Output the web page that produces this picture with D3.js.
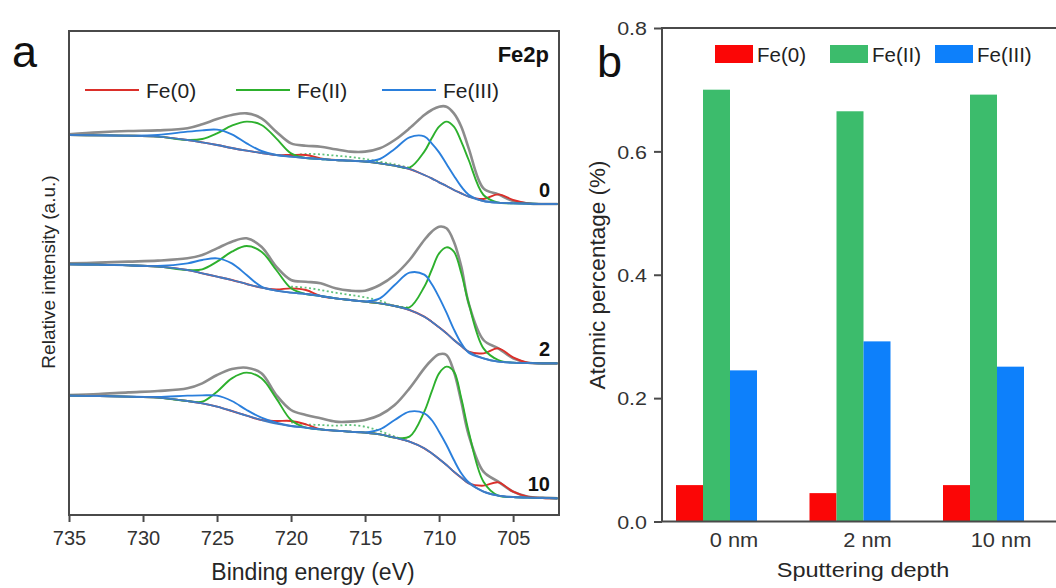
<!DOCTYPE html>
<html>
<head>
<meta charset="utf-8">
<script src="https://cdn.jsdelivr.net/npm/d3@7"></script>
<style>
  body { margin: 0; background: #fff; }
  text { font-family: "Liberation Sans", Arial, sans-serif; }
</style>
</head>
<body>
<svg id="chart" width="1056" height="588"></svg>
<script>
// ---- panel a: Fe2p spectra, binding energy grid (eV) shared by all curves
const energy = [735,733,731,729,727,726,725,724,723,722,721,720,719,718,717,716,715,714,713,712,711,710.5,710,709.5,709,708.5,708,707,706,705,704,703,702];
const energyTicks = [735,730,725,720,715,710,705];
const depthNames = ["0", "2", "10"];
// vertical stacking of the three spectra (same a.u. as the curves)
const stackOffset = [933, 455, 50];

// 0 nm
const raw_0nm = [209,215,219,221,227,239,255,267,272,257,217,182,175,172,164,157,157,167,192,227,267,282,292,292,272,232,167,47,29,9,2,0,0];
const bg_0nm  = [207,206,205,202,192,185,177,168,160,153,147,142,138,135,132,130,127,122,115,105,87,77,65,54,42,32,22,9,4,2,1,0,0];
const fe0_0nm = [207,206,205,202,192,185,177,168,160,153,147,147,147,137,132,130,127,122,115,105,87,77,65,54,42,32,22,15,29,12,2,0,0];
const fe2_0nm = [207,206,205,202,192,195,212,235,247,237,197,152,138,135,132,130,127,122,115,109,157,197,232,247,232,187,132,27,4,2,1,0,0];
const fe3_0nm = [207,206,205,207,217,221,223,209,182,159,147,142,138,135,132,130,128,135,165,200,203,182,155,120,85,52,28,9,4,2,1,0,0];
const sat_0nm = [null,null,null,null,null,null,null,null,null,null,null,145,150,149,145,141,135,127,119,109,null,null,null,null,null,null,null,null,null,null,null,null,null];

// 2 nm
const raw_2nm = [300,302,305,308,315,325,345,365,375,350,290,250,245,240,225,218,218,235,265,310,370,395,410,405,365,290,180,70,45,15,2,0,0];
const bg_2nm  = [297,296,294,290,280,270,260,250,238,227,218,212,208,202,195,190,185,180,172,160,140,125,108,90,70,52,35,15,5,2,1,0,0];
const fe0_2nm = [297,296,294,290,280,270,260,250,238,227,222,225,220,202,195,190,185,180,172,160,140,125,108,90,70,52,35,30,45,18,2,0,0];
const fe2_2nm = [297,296,294,290,280,282,305,335,352,335,280,225,208,202,195,190,185,180,172,168,230,280,330,348,335,270,180,45,10,2,1,0,0];
const fe3_2nm = [297,296,294,292,300,310,315,300,265,230,218,212,208,202,195,190,186,195,235,272,266,238,198,152,102,60,32,15,5,2,1,0,0];
const sat_2nm = [null,null,null,null,null,null,null,null,null,null,null,230,227,220,212,205,198,188,172,168,null,null,null,null,null,null,null,null,null,null,null,null,null];

// 10 nm
const raw_10nm = [310,313,318,322,330,345,370,388,392,375,310,265,250,240,230,230,235,250,280,330,390,415,432,430,380,290,190,80,50,20,5,2,0];
const bg_10nm  = [308,307,305,302,292,285,275,262,248,235,224,217,212,207,203,200,197,192,182,170,150,135,118,100,80,62,45,20,8,4,2,1,0];
const fe0_10nm = [308,307,305,302,292,285,275,262,248,235,232,232,222,207,203,200,197,192,182,170,150,135,118,100,80,62,45,38,48,20,5,1,0];
const fe2_10nm = [308,307,305,302,292,290,320,360,377,360,300,235,212,207,203,200,197,192,182,185,260,320,375,395,380,300,200,50,8,4,2,1,0];
const fe3_10nm = [308,307,305,304,308,309,308,292,265,242,227,217,212,207,203,200,198,207,235,260,255,235,200,160,115,75,48,20,8,4,2,1,0];
const sat_10nm = [null,null,null,null,null,null,null,null,null,null,null,228,222,220,218,220,215,202,185,170,null,null,null,null,null,null,null,null,null,null,null,null,null];

// ---- panel b: atomic percentage vs sputtering depth
const depthLabels = ["0 nm", "2 nm", "10 nm"];
const speciesNames = ["Fe(0)", "Fe(II)", "Fe(III)"];
const fe0Pct = [0.059, 0.046, 0.059];
const fe2Pct = [0.700, 0.665, 0.692];
const fe3Pct = [0.245, 0.292, 0.251];
const pctTicks = [0, 0.2, 0.4, 0.6, 0.8];

const svg = d3.select("#chart");
const axisColor = "#4a4a4a";
const textColor = "#262626";

// text helper, sx stretches glyphs horizontally
function label(g, x, y, str, size, opt) {
    opt = opt || {};
    let sx = opt.sx || 1;
    let rot = opt.rotate ? ` rotate(${opt.rotate})` : "";
    return g.append("text")
        .attr("transform", `translate(${x},${y})${rot} scale(${sx},1)`)
        .attr("text-anchor", opt.anchor || "start")
        .attr("font-size", size)
        .attr("font-weight", opt.bold ? "bold" : "normal")
        .attr("fill", opt.fill || textColor)
        .text(str);
}

// ================= panel a =================
const A = {left: 69, right: 559, top: 31, bottom: 515};
const xA = d3.scaleLinear().domain([735, 701.9]).range([A.left, A.right]);
const yA = d3.scaleLinear().domain([0, 1452]).range([A.bottom, A.top]);

const colA = {raw: "#8c8c8c", fe0: "#db2f2a", fe2: "#2db02d", fe3: "#2a7fdc", bg: "#3f7cc4", sat: "#62c27c"};

let spectra = [
    {raw: raw_0nm, bg: bg_0nm, fe0: fe0_0nm, fe2: fe2_0nm, fe3: fe3_0nm, sat: sat_0nm},
    {raw: raw_2nm, bg: bg_2nm, fe0: fe0_2nm, fe2: fe2_2nm, fe3: fe3_2nm, sat: sat_2nm},
    {raw: raw_10nm, bg: bg_10nm, fe0: fe0_10nm, fe2: fe2_10nm, fe3: fe3_10nm, sat: sat_10nm}
];

let gA = svg.append("g");

spectra.forEach(function (s, i) {
    let off = stackOffset[i];
    let line = d3.line()
        .defined(d => d[1] !== null)
        .x(d => xA(d[0]))
        .y(d => yA(d[1] + off))
        .curve(d3.curveCatmullRom.alpha(0.5));
    let pts = arr => energy.map((e, k) => [e, arr[k]]);

    gA.append("path").attr("d", line(pts(s.raw)))
        .attr("fill", "none").attr("stroke", colA.raw).attr("stroke-width", 2.6);
    gA.append("path").attr("d", line(pts(s.sat)))
        .attr("fill", "none").attr("stroke", colA.sat).attr("stroke-width", 1.8)
        .attr("stroke-dasharray", "2,2.5");
    ["fe0", "fe2", "fe3"].forEach(function (k) {
        gA.append("path").attr("d", line(pts(s[k])))
            .attr("fill", "none").attr("stroke", colA[k]).attr("stroke-width", 1.9);
    });
    gA.append("path").attr("d", line(pts(s.bg)))
        .attr("fill", "none").attr("stroke", colA.bg).attr("stroke-width", 1.8);

    label(gA, A.right - 9, yA(off) - 7, depthNames[i], 20, {anchor: "end", bold: true, fill: "#111"});
});

// frame
gA.append("rect")
    .attr("x", A.left).attr("y", A.top)
    .attr("width", A.right - A.left).attr("height", A.bottom - A.top)
    .attr("fill", "none").attr("stroke", axisColor).attr("stroke-width", 2);

let axA = gA.append("g")
    .attr("transform", `translate(0,${A.bottom})`)
    .call(d3.axisBottom(xA).tickValues(energyTicks).tickSize(7).tickSizeOuter(0).tickPadding(9));
axA.select(".domain").remove();
axA.selectAll("line").attr("stroke", axisColor).attr("stroke-width", 2);
axA.selectAll("text").attr("font-size", 20).attr("fill", "#333")
    .attr("font-family", "Liberation Sans, Arial, sans-serif");

label(gA, 313, 580, "Binding energy (eV)", 23, {anchor: "middle"});
label(gA, 55, 272, "Relative intensity (a.u.)", 19, {anchor: "middle", rotate: -90});
label(gA, 12, 67, "a", 45, {fill: "#111"});
label(gA, A.right - 10, 62, "Fe2p", 22, {anchor: "end", bold: true, fill: "#111"});

// legend a
let legA = [{k: "fe0", x: 85}, {k: "fe2", x: 236}, {k: "fe3", x: 382}];
legA.forEach(function (d, i) {
    gA.append("line")
        .attr("x1", d.x).attr("x2", d.x + 54).attr("y1", 90).attr("y2", 90)
        .attr("stroke", colA[d.k]).attr("stroke-width", 2.2);
    label(gA, d.x + 61, 97.5, speciesNames[i], 21, {fill: "#222"});
});

// ================= panel b =================
const B = {left: 662, right: 1056, top: 28, bottom: 521.5};
const colB = ["#fb0606", "#3cbc6c", "#0d80fb"];
const xB = d3.scalePoint().domain(depthLabels).range([734, 1001]);
const xSub = d3.scaleBand().domain(speciesNames).range([-58, 23]);
const yB = d3.scaleLinear().domain([0, 0.8]).range([B.bottom, B.top]);

let gB = svg.append("g");
let series = [fe0Pct, fe2Pct, fe3Pct];

series.forEach(function (vals, si) {
    gB.selectAll(null)
        .data(vals)
        .enter().append("rect")
        .attr("x", (v, j) => xB(depthLabels[j]) + xSub(speciesNames[si]))
        .attr("y", v => yB(v))
        .attr("width", xSub.bandwidth())
        .attr("height", v => yB(0) - yB(v))
        .attr("fill", colB[si]);
});

// frame lines: left, bottom, top
gB.append("path")
    .attr("d", `M${B.right},${B.top}H${B.left}V${B.bottom}H${B.right}`)
    .attr("fill", "none").attr("stroke", axisColor).attr("stroke-width", 2);

let axB = gB.append("g")
    .attr("transform", `translate(${B.left},0)`)
    .call(d3.axisLeft(yB).tickValues(pctTicks).tickFormat(d3.format(".1f")).tickSize(8).tickSizeOuter(0).tickPadding(6));
axB.select(".domain").remove();
axB.selectAll("line").attr("stroke", axisColor).attr("stroke-width", 2);
axB.selectAll("text")
    .attr("font-size", 19).attr("fill", "#333")
    .attr("font-family", "Liberation Sans, Arial, sans-serif")
    .attr("transform", "translate(-15,0) scale(1.13,1)")
    .attr("x", 0).attr("dy", "0.36em");

depthLabels.forEach(function (d) {
    label(gB, xB(d), 547, d, 19.5, {anchor: "middle", sx: 1.12, fill: "#333"});
});
label(gB, 863, 577, "Sputtering depth", 21, {anchor: "middle", sx: 1.12});
label(gB, 605, 275, "Atomic percentage (%)", 22.5, {anchor: "middle", rotate: -90});
label(gB, 597, 77, "b", 45, {fill: "#111"});

// legend b
let legB = [715, 830, 935];
legB.forEach(function (x, i) {
    gB.append("rect")
        .attr("x", x).attr("y", 45).attr("width", 38).attr("height", 18)
        .attr("fill", colB[i]);
    label(gB, x + 42, 61.5, speciesNames[i], 20.5, {fill: "#222"});
});
</script>
</body>
</html>
